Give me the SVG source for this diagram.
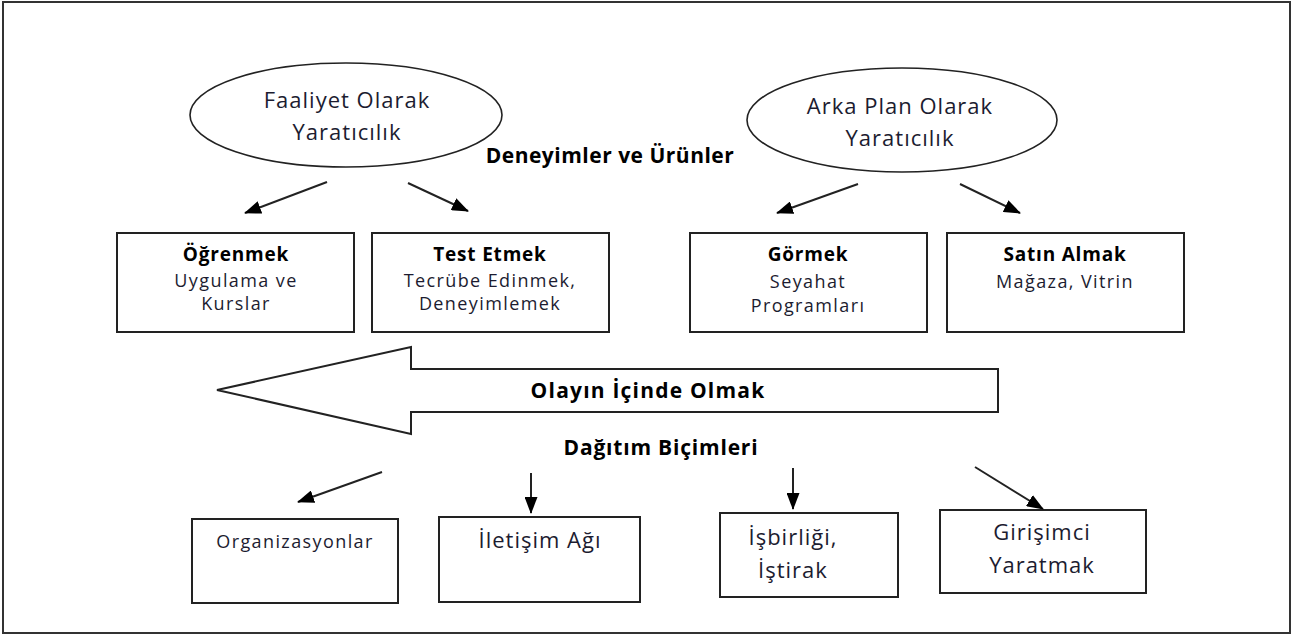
<svg xmlns="http://www.w3.org/2000/svg" width="1293" height="637" viewBox="0 0 1293 637">
<style>
.box{fill:#fff;stroke:#222;stroke-width:2}
.el{fill:#fff;stroke:#222;stroke-width:1.6}
.t{font-family:"Open Sans","Noto Sans",sans-serif;font-size:18px;fill:#1c1c30;text-anchor:middle;letter-spacing:1.4px}
.te{font-family:"Open Sans","Noto Sans",sans-serif;font-size:22px;fill:#1c1c30;text-anchor:middle;letter-spacing:1px}
.b{font-family:"Open Sans","Noto Sans",sans-serif;font-size:19px;font-weight:bold;fill:#000;text-anchor:middle;letter-spacing:0.8px}
.bl{font-family:"Open Sans","Noto Sans",sans-serif;font-size:21px;font-weight:bold;fill:#000;text-anchor:middle}
.c{stroke:#222;stroke-width:2;fill:none}
</style>
<defs>
<marker id="ah" viewBox="0 0 17 13" refX="16" refY="6.5" markerWidth="17" markerHeight="13" markerUnits="userSpaceOnUse" orient="auto">
<path d="M0,0 L17,6.5 L0,13 z" fill="#000"/>
</marker>
</defs>
<rect x="3" y="2" width="1287" height="631" fill="#fff" stroke="#333" stroke-width="2"/>

<g id="ellipse-faaliyet">
<ellipse class="el" cx="346" cy="115" rx="156" ry="52"/>
<text class="te" x="347" y="108">Faaliyet Olarak</text>
<text class="te" x="347" y="140">Yaratıcılık</text>
</g>
<g id="ellipse-arkaplan">
<ellipse class="el" cx="902" cy="120" rx="155" ry="52"/>
<text class="te" x="900" y="114">Arka Plan Olarak</text>
<text class="te" x="900" y="146">Yaratıcılık</text>
</g>
<g id="label-deneyimler">
<text class="bl" x="610" y="163" letter-spacing="0.5">Deneyimler ve Ürünler</text>
</g>

<g id="box-ogrenmek">
<rect class="box" x="117" y="233" width="237" height="99"/>
<text class="b" x="236" y="261">Öğrenmek</text>
<text class="t" x="236" y="287">Uygulama ve</text>
<text class="t" x="236" y="310">Kurslar</text>
</g>
<g id="box-test">
<rect class="box" x="372" y="233" width="237" height="99"/>
<text class="b" x="490" y="261">Test Etmek</text>
<text class="t" x="490" y="287">Tecrübe Edinmek,</text>
<text class="t" x="490" y="310">Deneyimlemek</text>
</g>
<g id="box-gormek">
<rect class="box" x="690" y="233" width="237" height="99"/>
<text class="b" x="808" y="261">Görmek</text>
<text class="t" x="808" y="288">Seyahat</text>
<text class="t" x="808" y="312">Programları</text>
</g>
<g id="box-satin">
<rect class="box" x="947" y="233" width="237" height="99"/>
<text class="b" x="1065" y="261">Satın Almak</text>
<text class="t" x="1065" y="288">Mağaza, Vitrin</text>
</g>

<g id="big-arrow">
<path d="M217,390 L411,347 L411,369 L998,369 L998,412 L411,412 L411,434 Z" fill="#fff" stroke="#222" stroke-width="2" stroke-linejoin="miter"/>
<text class="bl" x="648" y="398" letter-spacing="1.2">Olayın İçinde Olmak</text>
</g>
<g id="label-dagitim">
<text class="bl" x="661" y="455" letter-spacing="0.8">Dağıtım Biçimleri</text>
</g>

<g id="box-organizasyonlar">
<rect class="box" x="192" y="519" width="206" height="84"/>
<text class="t" x="295" y="548" font-size="19" letter-spacing="1.1">Organizasyonlar</text>
</g>
<g id="box-iletisim">
<rect class="box" x="439" y="517" width="201" height="85"/>
<text class="te" x="540" y="548">İletişim Ağı</text>
</g>
<g id="box-isbirligi">
<rect class="box" x="720" y="513" width="178" height="84"/>
<text class="te" x="793" y="545">İşbirliği,</text>
<text class="te" x="793" y="578">İştirak</text>
</g>
<g id="box-girisimci">
<rect class="box" x="940" y="510" width="206" height="83"/>
<text class="te" x="1042" y="540">Girişimci</text>
<text class="te" x="1042" y="573">Yaratmak</text>
</g>

<g id="connectors">
<line class="c" x1="327" y1="182" x2="245" y2="213" marker-end="url(#ah)"/>
<line class="c" x1="408" y1="183" x2="468" y2="211" marker-end="url(#ah)"/>
<line class="c" x1="858" y1="184" x2="777" y2="213" marker-end="url(#ah)"/>
<line class="c" x1="960" y1="184" x2="1020" y2="213" marker-end="url(#ah)"/>
<line class="c" x1="382" y1="472" x2="298" y2="502" marker-end="url(#ah)"/>
<line class="c" x1="531" y1="473" x2="531" y2="513" marker-end="url(#ah)"/>
<line class="c" x1="793" y1="468" x2="793" y2="509" marker-end="url(#ah)"/>
<line class="c" x1="975" y1="467" x2="1043" y2="509" marker-end="url(#ah)"/>
</g>
</svg>
